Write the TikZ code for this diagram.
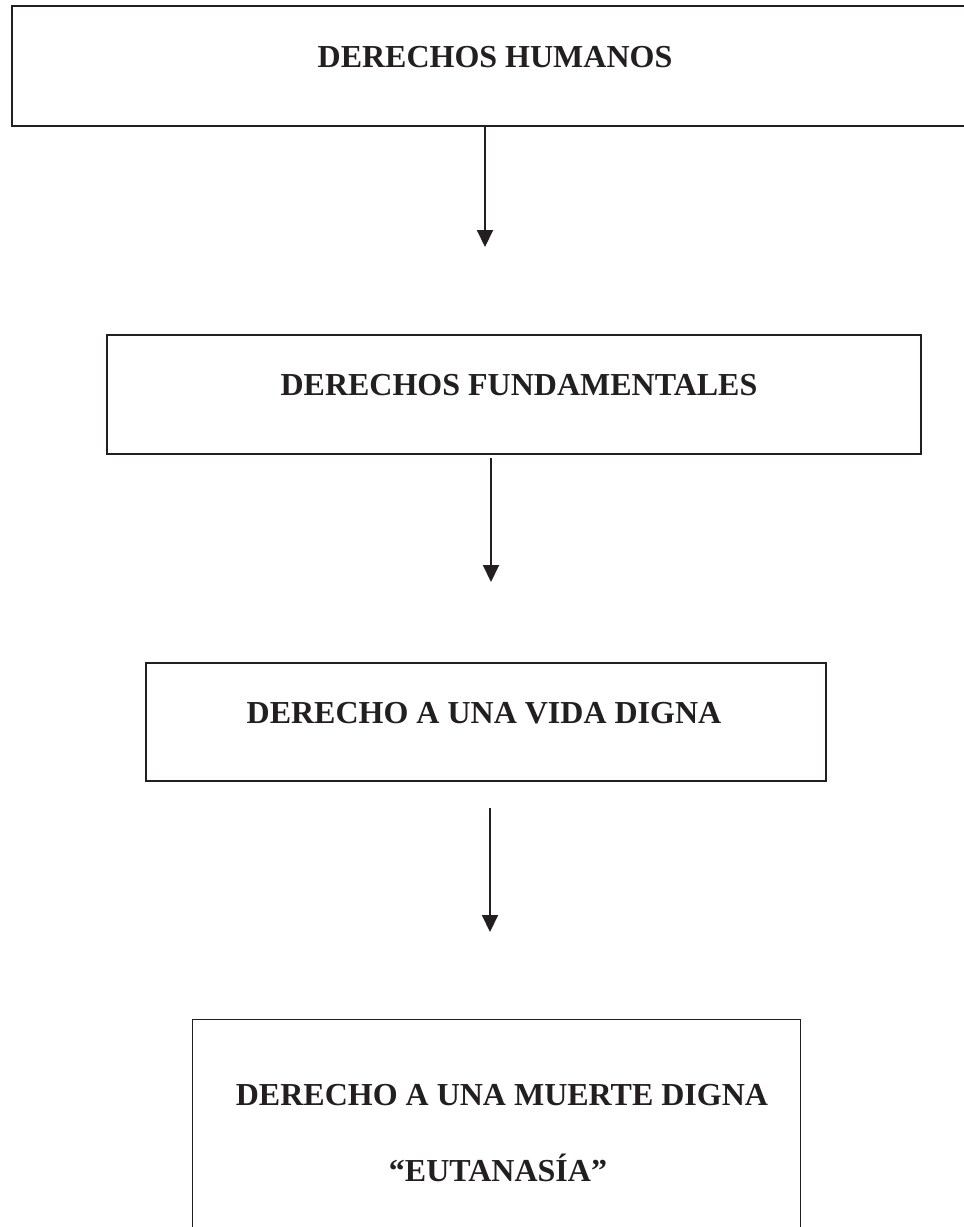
\documentclass[tikz,border=0pt]{standalone}
\usepackage{fontspec}
\setmainfont{Liberation Serif}
\usetikzlibrary{arrows.meta}
\definecolor{ink}{RGB}{35,31,32}
\begin{document}
\begin{tikzpicture}[x=1pt,y=-1pt,
  box/.style={draw=ink,line width=2.3pt,rectangle,inner sep=0pt,anchor=north west},
  thinbox/.style={draw=ink,line width=1.4pt,rectangle,inner sep=0pt,anchor=north west},
  lbl/.style={text=ink,inner sep=0pt,anchor=base,font=\fontsize{32}{38}\selectfont\bfseries},
  arr/.style={draw=ink,line width=2pt,-{Triangle[width=16pt,length=17pt]}}]
\useasboundingbox (0,0) rectangle (964,1227);
\clip (0,0) rectangle (964,1227);
% boxes
\node[box,minimum width=964pt,minimum height=120pt] (b1) at (11,5) {};
\node[box,minimum width=814pt,minimum height=119pt] (b2) at (106,334) {};
\node[box,minimum width=680pt,minimum height=118pt] (b3) at (145,662) {};
\node[thinbox,minimum width=608pt,minimum height=230pt] (b4) at (192,1019) {};
% labels
\node[lbl] (t1) at (495,67) {DERECHOS HUMANOS};
\node[lbl] (t2) at (519,395) {DERECHOS FUNDAMENTALES};
\node[lbl] (t3) at (484,723) {DERECHO A UNA VIDA DIGNA};
\node[lbl] (t4) at (502,1105) {DERECHO A UNA MUERTE DIGNA};
\node[lbl] (t5) at (498,1181) {“EUTANASÍA”};
% arrow ends
\coordinate (a1e) at (485,247);
\coordinate (a2s) at (491,458);
\coordinate (a2e) at (491,582);
\coordinate (a3s) at (490,808);
\coordinate (a3e) at (490,932);
\draw[arr] (b1.south -| a1e) -- (a1e);
\draw[arr] (a2s) -- (a2e);
\draw[arr] (a3s) -- (a3e);
\end{tikzpicture}
\end{document}
